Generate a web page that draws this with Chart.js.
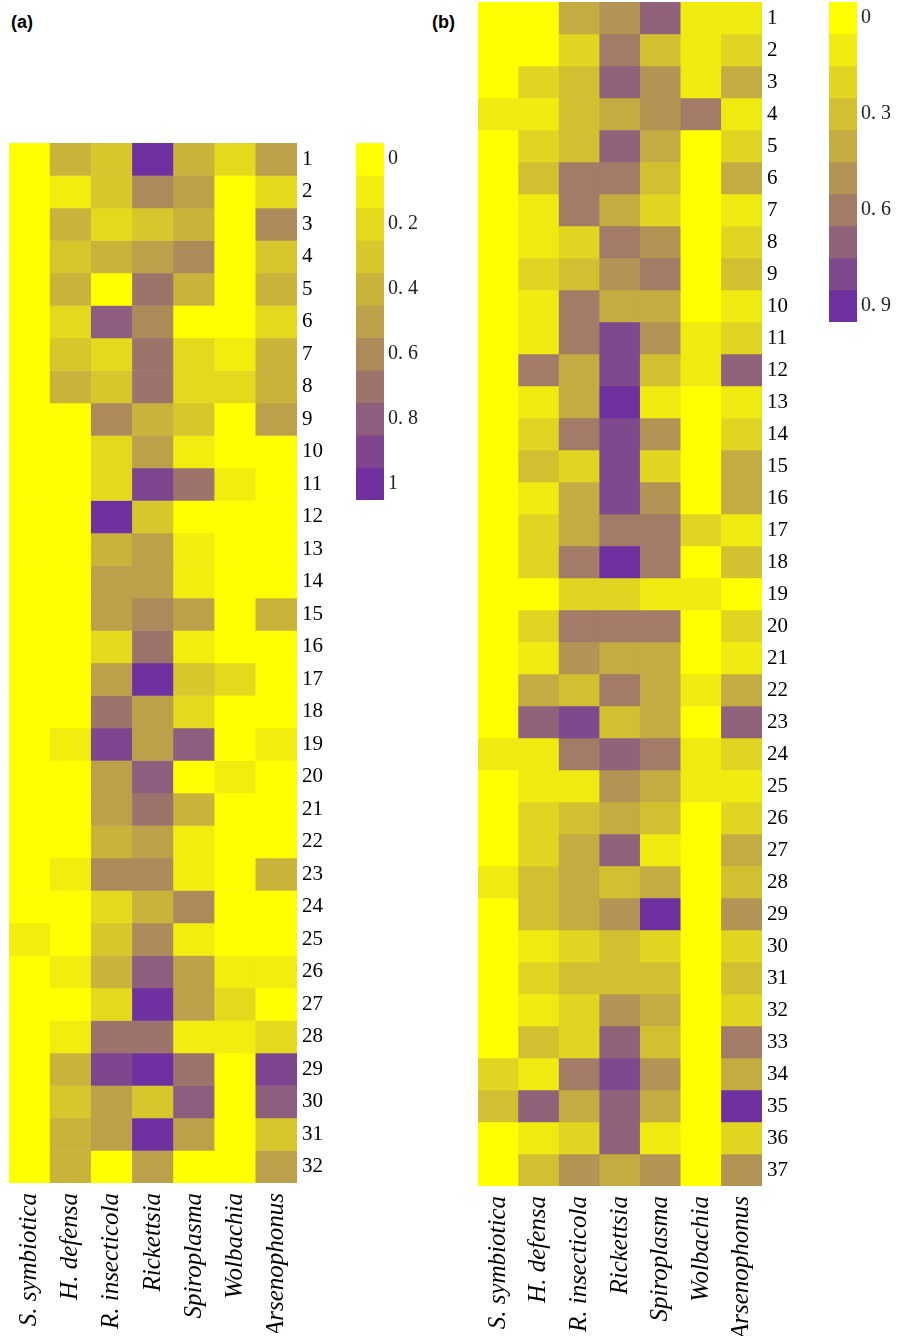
<!DOCTYPE html>
<html><head><meta charset="utf-8">
<script src="https://cdn.jsdelivr.net/npm/chart.js@4.4.1/dist/chart.umd.min.js"></script>
<style>
body{margin:0;background:#fff;}
#wrap{position:relative;width:913px;height:1336px;overflow:hidden;background:#fff;}
canvas{position:absolute;}
.plabel{position:absolute;font-family:"Liberation Sans",Arial,sans-serif;font-weight:bold;font-size:18px;color:#000;line-height:20px;}
</style></head><body>
<div id="wrap">
<div class="plabel" style="left:11px;top:12px">(a)</div>
<div class="plabel" style="left:432px;top:12px">(b)</div>
<canvas id="ha" width="350" height="1336" style="left:0;top:0;width:350px;height:1336px"></canvas>
<canvas id="la" width="110" height="450" style="left:340px;top:100px;width:110px;height:450px"></canvas>
<canvas id="hb" width="400" height="1336" style="left:420px;top:0;width:400px;height:1336px"></canvas>
<canvas id="lb" width="113" height="360" style="left:800px;top:0;width:113px;height:360px"></canvas>
</div>
<script>
// ---------- categories ----------
const species = ['S. symbiotica', 'H. defensa', 'R. insecticola', 'Rickettsia', 'Spiroplasma', 'Wolbachia', 'Arsenophonus'];

// ---------- row tick labels ----------
const rowTicksA = ['1','2','3','4','5','6','7','8','9','10','11','12','13','14','15','16','17','18','19','20','21','22','23','24','25','26','27','28','29','30','31','32'];
const rowTicksB = ['1','2','3','4','5','6','7','8','9','10','11','12','13','14','15','16','17','18','19','20','21','22','23','24','25','26','27','28','29','30','31','32','33','34','35','36','37'];

// ---------- panel (a) values, rows 1..32 ----------
const aSymbiotica  = [0,0,0,0,0,0,0,0,0,0,0,0,0,0,0,0,0,0,0,0,0,0,0,0,0.1,0,0,0,0,0,0,0];
const aDefensa     = [0.4,0.1,0.4,0.3,0.4,0.2,0.3,0.4,0,0,0,0,0,0,0,0,0,0,0.1,0,0,0,0.1,0,0,0.1,0,0.1,0.4,0.3,0.4,0.4];
const aInsecticola = [0.3,0.3,0.2,0.4,0,0.8,0.2,0.3,0.6,0.2,0.2,1.0,0.4,0.5,0.5,0.2,0.5,0.7,0.9,0.5,0.5,0.4,0.6,0.2,0.3,0.4,0.2,0.7,0.9,0.5,0.5,0];
const aRickettsia  = [1.0,0.6,0.3,0.5,0.7,0.6,0.7,0.7,0.4,0.5,0.9,0.3,0.5,0.5,0.6,0.7,1.0,0.5,0.5,0.8,0.7,0.5,0.6,0.4,0.6,0.8,1.0,0.7,1.0,0.3,1.0,0.5];
const aSpiroplasma = [0.4,0.5,0.4,0.6,0.4,0,0.2,0.2,0.3,0.1,0.7,0,0.1,0.1,0.5,0.1,0.3,0.2,0.8,0,0.4,0.1,0.1,0.6,0.1,0.5,0.5,0.1,0.7,0.8,0.5,0];
const aWolbachia   = [0.2,0,0,0,0,0,0.1,0.2,0,0,0.1,0,0,0,0,0,0.2,0,0,0.1,0,0,0,0,0,0.1,0.2,0.1,0,0,0,0];
const aArsenophonus= [0.5,0.2,0.6,0.3,0.4,0.2,0.4,0.4,0.5,0,0,0,0,0,0.4,0,0,0,0.1,0,0,0,0.4,0,0,0.1,0,0.2,0.9,0.8,0.3,0.5];

// ---------- panel (b) values, rows 1..37 ----------
const bSymbiotica  = [0,0,0,0.1,0,0,0,0,0,0,0,0,0,0,0,0,0,0,0,0,0,0,0,0.1,0,0,0,0.1,0,0,0,0,0,0.2,0.3,0,0];
const bDefensa     = [0,0,0.2,0.1,0.2,0.3,0.1,0.1,0.2,0.1,0.1,0.6,0.1,0.2,0.3,0.1,0.2,0.2,0,0.2,0.1,0.4,0.7,0.1,0.1,0.2,0.2,0.3,0.3,0.1,0.2,0.1,0.3,0.1,0.7,0.1,0.3];
const bInsecticola = [0.4,0.2,0.3,0.3,0.3,0.6,0.6,0.2,0.3,0.6,0.6,0.4,0.4,0.6,0.2,0.4,0.4,0.6,0.2,0.6,0.5,0.3,0.8,0.6,0.1,0.3,0.4,0.4,0.4,0.2,0.3,0.2,0.2,0.6,0.4,0.2,0.5];
const bRickettsia  = [0.5,0.6,0.7,0.4,0.7,0.6,0.4,0.6,0.5,0.4,0.8,0.8,0.9,0.8,0.8,0.8,0.6,0.9,0.2,0.6,0.4,0.6,0.3,0.7,0.5,0.4,0.7,0.3,0.5,0.3,0.3,0.5,0.7,0.8,0.7,0.7,0.4];
const bSpiroplasma = [0.7,0.3,0.5,0.5,0.4,0.3,0.2,0.5,0.6,0.4,0.5,0.3,0.1,0.5,0.2,0.5,0.6,0.6,0.1,0.6,0.4,0.4,0.4,0.6,0.4,0.3,0.1,0.4,0.9,0.2,0.3,0.4,0.3,0.5,0.4,0.1,0.5];
const bWolbachia   = [0.1,0.1,0.1,0.6,0,0,0,0,0,0,0.1,0.1,0,0,0,0,0.2,0,0.1,0,0,0.1,0,0.1,0.1,0,0,0,0,0,0,0,0,0,0,0,0];
const bArsenophonus= [0.1,0.2,0.4,0.1,0.2,0.4,0.1,0.2,0.3,0.1,0.2,0.7,0.1,0.2,0.4,0.4,0.1,0.3,0,0.2,0.1,0.4,0.7,0.2,0.1,0.2,0.4,0.3,0.5,0.2,0.3,0.2,0.6,0.4,0.9,0.2,0.5];

// ---------- colour-bar levels and tick labels ----------
const legendALevels = [0,0.1,0.2,0.3,0.4,0.5,0.6,0.7,0.8,0.9,1.0];
const legendATicks  = ['0','','0. 2','','0. 4','','0. 6','','0. 8','','1'];
const legendBLevels = [0,0.1,0.2,0.3,0.4,0.5,0.6,0.7,0.8,0.9];
const legendBTicks  = ['0','','','0. 3','','','0. 6','','','0. 9'];

const maxA = 1.0, maxB = 0.9;

// ---------- colour map (yellow -> tan -> purple) ----------
const stops = [[0,[255,255,0]],[0.5,[189,160,74]],[1,[112,48,160]]];
function cmap(t){
  t = Math.max(0, Math.min(1, t));
  for (let i = 0; i < stops.length - 1; i++){
    const [t0,c0] = stops[i], [t1,c1] = stops[i+1];
    if (t <= t1){
      const f = (t - t0) / (t1 - t0);
      const c = c0.map((v,k)=>Math.round(v + (c1[k]-v)*f));
      return 'rgb(' + c.join(',') + ')';
    }
  }
  return 'rgb(112,48,160)';
}

const serif = '"Liberation Serif","Times New Roman",serif';

function heatmap(id, series, maxVal, rowTicks, pad, tickPad){
  const n = rowTicks.length;
  const datasets = rowTicks.map((lab, r) => ({
    label: lab,
    data: species.map(() => [r + 0.5, r + 1.5]),
    backgroundColor: series.map(s => cmap(s[r] / maxVal)),
    borderWidth: 0, barPercentage: 1, categoryPercentage: 1, grouped: false
  }));
  new Chart(document.getElementById(id), {
    type: 'bar',
    data: { labels: species, datasets },
    options: {
      responsive: false, animation: false, devicePixelRatio: 1,
      layout: { padding: pad },
      plugins: { legend: { display: false }, tooltip: { enabled: false } },
      scales: {
        x: {
          grid: { display: false, drawTicks: false }, border: { display: false },
          ticks: { color: '#000', font: { family: serif, size: 25, style: 'italic' }, maxRotation: 90, minRotation: 90, padding: 10, autoSkip: false },
          afterFit(s){ s.height = 150; s.paddingLeft = 0; s.paddingRight = 0; }
        },
        y: {
          type: 'linear', position: 'right', reverse: true, min: 0.5, max: n + 0.5,
          grid: { display: false, drawTicks: false }, border: { display: false },
          afterBuildTicks(s){ s.ticks = rowTicks.map((_, i) => ({ value: i + 1 })); },
          ticks: { color: '#000', font: { family: serif, size: 21 }, padding: tickPad, autoSkip: false,
                   callback: (v, i) => rowTicks[i] },
          afterFit(s){ s.width = 45; s.paddingTop = 0; s.paddingBottom = 0; }
        }
      }
    }
  });
}

function colorBar(id, levels, tickLabels, maxVal, pad){
  const n = levels.length;
  const datasets = levels.map((v, k) => ({
    data: [[k - 0.5, k + 0.5]],
    backgroundColor: cmap(v / maxVal),
    borderWidth: 0, barPercentage: 1, categoryPercentage: 1, grouped: false
  }));
  new Chart(document.getElementById(id), {
    type: 'bar',
    data: { labels: [''], datasets },
    options: {
      responsive: false, animation: false, devicePixelRatio: 1,
      layout: { padding: pad },
      plugins: { legend: { display: false }, tooltip: { enabled: false } },
      scales: {
        x: { display: false },
        y: {
          type: 'linear', position: 'right', reverse: true, min: -0.5, max: n - 0.5,
          grid: { display: false, drawTicks: false }, border: { display: false },
          afterBuildTicks(s){ s.ticks = levels.map((_, i) => ({ value: i })); },
          ticks: { color: '#222', font: { family: serif, size: 20 }, padding: 4, autoSkip: false,
                   callback: (v, i) => tickLabels[i] },
          afterFit(s){ s.width = 50; s.paddingTop = 0; s.paddingBottom = 0; }
        }
      }
    }
  });
}

heatmap('ha', [aSymbiotica, aDefensa, aInsecticola, aRickettsia, aSpiroplasma, aWolbachia, aArsenophonus], maxA, rowTicksA,
        { left: 9, top: 143, right: 8, bottom: 3 }, 5);
heatmap('hb', [bSymbiotica, bDefensa, bInsecticola, bRickettsia, bSpiroplasma, bWolbachia, bArsenophonus], maxB, rowTicksB,
        { left: 58, top: 2, right: 13, bottom: 0 }, 5);
colorBar('la', legendALevels, legendATicks, maxA, { left: 16, top: 43, right: 16, bottom: 50 });
colorBar('lb', legendBLevels, legendBTicks, maxB, { left: 29, top: 2, right: 6, bottom: 38 });
</script>
</body></html>
